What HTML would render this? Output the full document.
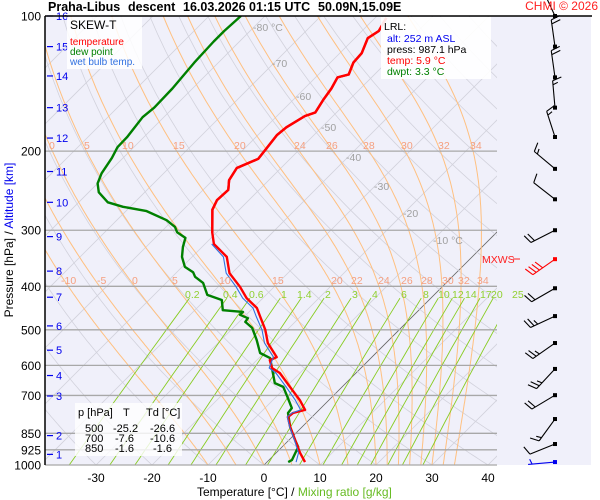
<!DOCTYPE html>
<html><head><meta charset="utf-8"><style>
html,body{margin:0;padding:0;background:#fff;}
svg{display:block;font-family:"Liberation Sans",sans-serif;}
</style></head><body>
<svg id="chart" width="600" height="500" viewBox="0 0 600 500" xmlns="http://www.w3.org/2000/svg">
<defs><clipPath id="pc"><rect x="45" y="16" width="452" height="449"/></clipPath></defs>
<rect x="45" y="16" width="546" height="449" fill="#f0f0fa"/>
<g id="bg" clip-path="url(#pc)"></g>
<g id="isobars"></g>
<g id="series" clip-path="url(#pc)"></g>
<g id="barbs"></g>
<g id="labels"></g>
<line x1="45" y1="16" x2="45" y2="465" stroke="#000" stroke-width="1.5"/>
<line x1="45" y1="16" x2="592" y2="16" stroke="#000" stroke-width="1.5"/>
<g font-size="12.5" font-weight="bold" fill="#000">
<text x="48" y="11">Praha-Libus</text><text x="128" y="11">descent</text><text x="183" y="11">16.03.2026 01:15 UTC</text><text x="318" y="11">50.09N,15.09E</text>
</g>
<text x="598" y="10" text-anchor="end" font-size="12" fill="#ff2020">CHMI © 2026</text>
<g>
<rect x="67" y="17" width="75" height="52" fill="#fff" opacity="0.85"/>
<text x="70" y="29" font-size="12">SKEW-T</text>
<text x="70" y="45" font-size="10" fill="#ff0000">temperature</text>
<text x="70" y="55" font-size="10" fill="#008000">dew point</text>
<text x="70" y="65" font-size="10" fill="#3070e0">wet bulb temp.</text>
</g>
<g font-size="10.5">
<rect x="381" y="17" width="110" height="62" fill="#fff" opacity="0.9"/>
<text x="384" y="30">LRL:</text>
<text x="387" y="42" fill="#0000ee">alt: 252 m ASL</text>
<text x="387" y="53">press: 987.1 hPa</text>
<text x="387" y="64" fill="#ff0000">temp: 5.9 °C</text>
<text x="387" y="75" fill="#008000">dwpt: 3.3 °C</text>
</g>
<g font-size="11">
<rect x="75" y="403" width="107" height="53" fill="#fff" opacity="0.8"/>
<text x="78" y="416">p [hPa]</text><text x="123" y="416">T</text><text x="146" y="416">Td [°C]</text>
<text x="85" y="432">500</text><text x="113" y="432">-25.2</text><text x="150" y="432">-26.6</text>
<text x="85" y="442">700</text><text x="115" y="442">-7.6</text><text x="150" y="442">-10.6</text>
<text x="85" y="452">850</text><text x="115" y="452">-1.6</text><text x="153" y="452">-1.6</text>
</g>
<text transform="translate(13,240) rotate(-90)" text-anchor="middle" font-size="12">Pressure [hPa]  /  <tspan fill="#0000ee">Altitude [km]</tspan></text>
<text x="197" y="496" font-size="12">Temperature [°C]  /  <tspan fill="#66bb22">Mixing ratio [g/kg]</tspan></text>
<g><text x="482" y="263" font-size="10.5" fill="#ff2020">MXWS</text><line x1="513" y1="259" x2="520" y2="259" stroke="#ff2020"/></g>
<script>
const tempP=[101,108,112,121,127,135,137,145,154,164,167,177,184,197,208,218,232,244,257,270,304,322,344,374,401,425,447,468,500,535,575,584,608,624,670,717,754,766,782,823,880,940,985];
const tempT=[-58.0,-57.0,-57.7,-56.1,-55.9,-54.6,-56.1,-55.2,-54.6,-53.8,-55.0,-56.3,-56.6,-56.1,-55.7,-57.9,-57.1,-55.5,-55.7,-54.8,-50.7,-48.4,-43.8,-40.4,-36.1,-32.9,-29.3,-27.1,-23.9,-21.1,-17.0,-17.7,-15.9,-13.6,-9.3,-5.2,-2.5,-4.1,-4.3,-2.1,1.1,4.3,6.8];
const dewP=[100,108,114,127,137,145,160,168,186,196,207,224,236,247,260,266,272,285,295,303,312,327,344,362,372,381,393,418,429,452,456,463,471,480,495,527,563,578,614,657,670,705,747,766,823,880,912,975,985];
const dewT=[-84.3,-84.6,-84.6,-84.3,-83.9,-83.6,-83.4,-83.8,-83.0,-82.9,-82.0,-81.1,-80.0,-78.2,-74.8,-71.3,-66.3,-61.1,-58.4,-57.1,-54.6,-53.4,-51.8,-49.5,-47.1,-45.9,-43.4,-40.5,-37.0,-35.0,-31.1,-31.1,-29.1,-28.9,-26.6,-23.6,-20.7,-18.0,-15.5,-12.7,-10.5,-8.0,-5.2,-5.0,-2.1,1.1,2.9,4.1,3.8];
const wbP=[322,344,374,401,425,447,468,500,535,575,608,624,670,717,754,766,782,823,880,940,985];
const wbT=[-48.8,-44.4,-41.0,-36.8,-33.6,-30.0,-27.8,-24.5,-21.7,-17.6,-16.4,-14.3,-10.0,-6.0,-3.3,-4.3,-4.4,-2.2,1.0,4.0,5.2];
const barbP=[100,117,137,160,186,219,256,300,348,404,466,535,611,699,790,898,985];
const barbDir=[335,352,352,355,342,310,308,243,235,240,245,235,223,239,216,248,265];
const barbSpd=[20,20,20,15,15,15,10,20,40,20,25,25,25,20,15,10,5];
const isobarP=[200,300,400,500,600,700,850,925,1000];
const pressLabels=["100","200","300","400","500","600","700","850","925","1000"];
const pressLabelP=[100,200,300,400,500,600,700,850,925,1000];
const xTicks=[-30,-20,-10,0,10,20,30,40];
const altKm=[1,2,3,4,5,6,7,8,9,10,11,12,13,14,15,16];
const altP=[947,860,702,632,555,490,423,370,310,260,222,187,160,136,117,100];
const mixW=[0.2,0.4,0.6,1,1.4,2,3,4,6,8,10,12,14,17,20,25];
const moistThw=[-10,-5,0,5,10,15,20,22,24,26,28,30,32,34];

const NS="http://www.w3.org/2000/svg";
function yP(p){return 465-195*Math.log(1000/p);}
function xT(t,p){return 264+5.6*t+195*Math.log(1000/p);}
function mk(tag,attrs,parent){const e=document.createElementNS(NS,tag);for(const k in attrs)e.setAttribute(k,attrs[k]);parent.appendChild(e);return e;}
function poly(pts){return pts.map(q=>q[0].toFixed(1)+","+q[1].toFixed(1)).join(" ");}
const bg=document.getElementById('bg');
for(let t=-160;t<=40;t+=10){
  const l=mk('line',{x1:xT(t,1000),y1:yP(1000),x2:xT(t,100),y2:yP(100),stroke:t===0?'#666':'#d2d2dc','stroke-width':0.8},bg);
  
  
}
for(let th=-40;th<=200;th+=10){
  const pts=[];for(let p=1000;p>=100;p-=10){pts.push([xT((th+273.15)*Math.pow(p/1000,0.2857)-273.15,p),yP(p)]);}
  const e=mk('polyline',{points:poly(pts),fill:'none',stroke:'#d2d2dc','stroke-width':0.8},bg);
  
  
}
moistThw.forEach(thw=>{
  let T=thw+273.15;const pts=[];
  for(let p=1000;p>=100;p-=5){pts.push([xT(T-273.15,p),yP(p)]);
    const es=6.112*Math.exp(17.67*(T-273.15)/(T-29.65));const rs=0.622*es/(p-es);
    const num=287*T+2.501e6*rs;const den=1005+(2.501e6*2.501e6*rs*0.622)/(287*T*T);
    T-=num/(p*den)*5;}
  const e=mk('polyline',{points:poly(pts),fill:'none',stroke:'#ffc080','stroke-width':1},bg);
  
  
});
mixW.forEach(w=>{
  const pts=[];for(let p=1000;p>=425;p-=25){const e=w*p/(622+w);const L=Math.log(e/6.112);const td=243.5*L/(17.67-L);pts.push([xT(td,p),yP(p)]);}
  const e=mk('polyline',{points:poly(pts),fill:'none',stroke:'#88cc22','stroke-width':0.9},bg);
  
  
});
const iso=document.getElementById('isobars');
isobarP.forEach(p=>{
  const e=mk('line',{x1:45,y1:yP(p),x2:497,y2:yP(p),stroke:'#a8a8a8','stroke-width':1.3},iso);
  
  
});
const lab=document.getElementById('labels');
pressLabelP.forEach((p,i)=>{
  const e=mk('text',{x:41,y:yP(p)+4.5,'text-anchor':'end','font-size':12},lab);e.textContent=pressLabels[i];
  
  
});
xTicks.forEach(t=>{
  const e=mk('text',{x:xT(t,1000),y:482,'text-anchor':'middle','font-size':12},lab);e.textContent=String(t);
  
  
});
altKm.forEach((k,i)=>{
  const y=yP(altP[i]);
  const t=mk('line',{x1:47,y1:y,x2:53,y2:y,stroke:'#0000ee','stroke-width':1.2},lab);
  
  
  const e=mk('text',{x:56,y:y+4,'font-size':11,fill:'#0000ee'},lab);e.textContent=String(k);
  
  
});
const annot=[["-80 °C",253,31,'#a0a0a0'],["-70",272,67,'#a0a0a0'],["-60",296,100,'#a0a0a0'],["-50",321,131,'#a0a0a0'],["-40",346,161,'#a0a0a0'],["-30",374,190,'#a0a0a0'],["-20",403,217,'#a0a0a0'],["-10 °C",433,244,'#a0a0a0'],
["0",49,149,'#f5a080'],["5",84,149,'#f5a080'],["10",122,149,'#f5a080'],["15",173,149,'#f5a080'],["20",234,149,'#f5a080'],["24",294,149,'#f5a080'],["26",326,149,'#f5a080'],["28",363,149,'#f5a080'],["30",401,149,'#f5a080'],["32",438,149,'#f5a080'],["34",470,149,'#f5a080'],
["-10",61,284,'#f5a080'],["-5",97,284,'#f5a080'],["0",132,284,'#f5a080'],["5",172,284,'#f5a080'],["10",219,284,'#f5a080'],["15",272,284,'#f5a080'],["20",331,284,'#f5a080'],["22",351,284,'#f5a080'],["24",378,284,'#f5a080'],["26",401,284,'#f5a080'],["28",421,284,'#f5a080'],["30",442,284,'#f5a080'],["32",458,284,'#f5a080'],["34",477,284,'#f5a080'],
["0.2",185,298,'#90d030'],["0.4",223,298,'#90d030'],["0.6",249,298,'#90d030'],["1",281,298,'#90d030'],["1.4",297,298,'#90d030'],["2",325,298,'#90d030'],["3",352,298,'#90d030'],["4",372,298,'#90d030'],["6",401,298,'#90d030'],["8",423,298,'#90d030'],["10",438,298,'#90d030'],["12",452,298,'#90d030'],["14",465,298,'#90d030'],["17",480,298,'#90d030'],["20",491,298,'#90d030'],["25",512,298,'#90d030']];
annot.forEach(a=>{const e=mk('text',{x:a[1],y:a[2],'font-size':10.5,fill:a[3]},lab);e.textContent=a[0];
  
  });
const ser=document.getElementById('series');
function line(P,T,color,w,name){
  const e=mk('polyline',{points:poly(P.map((p,i)=>[xT(T[i],p),yP(p)])),fill:'none',stroke:color,'stroke-width':w,'stroke-linejoin':'round'},ser);
  
  
}
line(dewP,dewT,'#008000',2.4,'dewpoint-line');
line(tempP,tempT,'#ff0000',2.4,'temperature-line');
line(wbP,wbT,'#3070e0',1.1,'wet-bulb-line');
line(tempP.slice(0,21),tempT.slice(0,21),'#ff0000',2.4,'temperature-line-upper');
const bb=document.getElementById('barbs');
barbP.forEach((p,i)=>{
  const d=barbDir[i]*Math.PI/180,ux=Math.sin(d),uy=-Math.cos(d);
  const bx=555,by=yP(p),L=27;const tx=bx+ux*L,ty=by+uy*L;
  const col=i===8?'#ff0000':(i===barbP.length-1?'#0000ee':'#000');
  const g=mk('g',{stroke:col,'stroke-width':1.1,fill:'none'},bb);
  
  
  mk('line',{x1:bx,y1:by,x2:tx,y2:ty},g);
  mk('rect',{x:bx-2,y:by-2,width:4,height:4,fill:col,stroke:'none'},g);
  const px=-uy,py=ux;let s=barbSpd[i],k=0;
  while(s>=10){const sx=tx-ux*4*k,sy=ty-uy*4*k;mk('line',{x1:sx,y1:sy,x2:sx+px*9+ux*3,y2:sy+py*9+uy*3},g);s-=10;k++;}
  if(s>=5){const sx=tx-ux*4*(k===0?1:k),sy=ty-uy*4*(k===0?1:k);mk('line',{x1:sx,y1:sy,x2:sx+px*5+ux*2,y2:sy+py*5+uy*2},g);}
});
</script>
</svg>
</body></html>
